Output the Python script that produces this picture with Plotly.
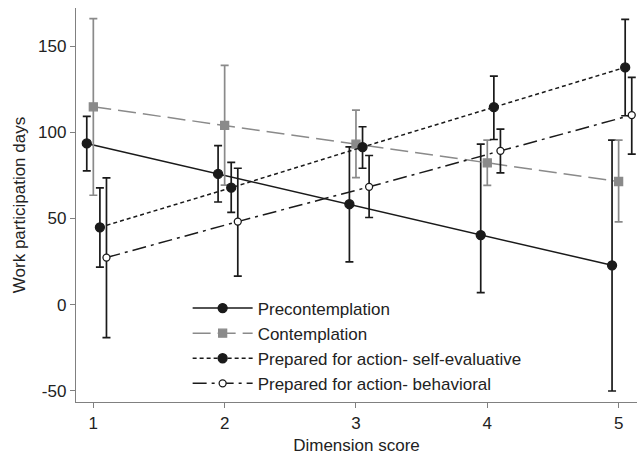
import plotly.graph_objects as go

scores = [1, 2, 3, 4, 5]
offsets = [-0.05, 0.0, 0.05, 0.10]
series_names = [
    "Precontemplation",
    "Contemplation",
    "Prepared for action- self-evaluative",
    "Prepared for action- behavioral",
]
# estimated mean, upper CI, lower CI per score
pre_mean = [93.6, 75.9, 58.3, 40.4, 22.8]
pre_hi = [109.3, 92.4, 91.6, 93.2, 95.5]
pre_lo = [77.7, 59.6, 24.8, 7.0, -50.2]

con_mean = [114.9, 104.1, 93.2, 82.3, 71.5]
con_hi = [166.1, 139.0, 113.0, 95.5, 95.5]
con_lo = [63.5, 69.4, 73.8, 69.2, 48.0]

se_mean = [44.9, 67.9, 91.5, 114.7, 137.8]
se_hi = [67.8, 82.6, 103.3, 132.7, 165.7]
se_lo = [21.8, 53.6, 79.2, 95.9, 109.7]

be_mean = [27.3, 48.2, 68.4, 89.3, 110.1]
be_hi = [73.6, 79.2, 86.6, 101.9, 132.0]
be_lo = [-19.2, 16.5, 50.6, 76.5, 87.4]

means = [pre_mean, con_mean, se_mean, be_mean]
his = [pre_hi, con_hi, se_hi, be_hi]
los = [pre_lo, con_lo, se_lo, be_lo]

styles = [
    dict(color="#1a1a1a", dash="solid", symbol="circle", size=9, fill="#1a1a1a"),
    dict(color="#8a8a8a", dash="18px,7px", symbol="square", size=8, fill="#8a8a8a"),
    dict(color="#1a1a1a", dash="4px,3px", symbol="circle", size=9, fill="#1a1a1a"),
    dict(color="#1a1a1a", dash="14px,5px,3px,5px", symbol="circle", size=7, fill="white"),
]

fig = go.Figure()
for name, off, m, hi, lo, st in zip(series_names, offsets, means, his, los, styles):
    fig.add_trace(go.Scatter(
        x=[s + off for s in scores],
        y=m,
        name=name,
        mode="lines+markers",
        line=dict(color=st["color"], width=1.5, dash=st["dash"]),
        marker=dict(symbol=st["symbol"], size=st["size"], color=st["fill"],
                    line=dict(color=st["color"], width=1.3)),
        error_y=dict(type="data", symmetric=False,
                     array=[h - v for h, v in zip(hi, m)],
                     arrayminus=[v - l for l, v in zip(lo, m)],
                     color=st["color"], thickness=1.7, width=4),
    ))

axis_common = dict(
    showgrid=False, zeroline=False, showline=True, linecolor="#808080", linewidth=1.3,
    ticks="outside", ticklen=5, tickcolor="#808080", tickwidth=1.3,
    tickfont=dict(family="Liberation Sans, Arial", size=17, color="#222"),
)

fig.update_layout(
    width=638, height=459,
    margin=dict(l=76, r=1, t=8, b=57),
    paper_bgcolor="white", plot_bgcolor="white",
    font=dict(family="Liberation Sans, Arial", size=17, color="#222"),
    xaxis=dict(range=[0.868, 5.14], tickvals=scores,
               title=dict(text="Dimension score", font=dict(size=17), standoff=7),
               **axis_common),
    yaxis=dict(range=[-56.6, 172.3], tickvals=[-50, 0, 50, 100, 150],
               ticktext=["-50", "0", "50", "100", "150"],
               title=dict(text="Work participation days", font=dict(size=17), standoff=8),
               **axis_common),
    legend=dict(x=0.199, y=0.283, xanchor="left", yanchor="top",
                bgcolor="rgba(0,0,0,0)", font=dict(size=17), itemwidth=60,
                tracegroupgap=0),
    showlegend=True,
)

fig.write_html("out.html")
